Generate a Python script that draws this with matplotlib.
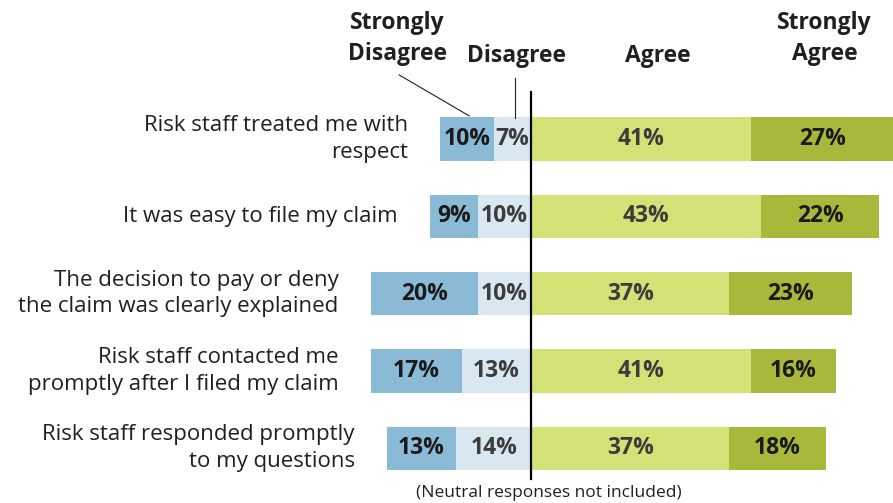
import numpy as np
import matplotlib
matplotlib.use('Agg')
import matplotlib.pyplot as plt

plt.rcParams['font.family'] = ['Open Sans', 'DejaVu Sans']

# survey data
questions = ['Risk staff treated me with\nrespect',
             'It was easy to file my claim',
             'The decision to pay or deny\nthe claim was clearly explained',
             'Risk staff contacted me\npromptly after I filed my claim',
             'Risk staff responded promptly\nto my questions']
strongly_disagree = [10, 9, 20, 17, 13]
disagree = [7, 10, 10, 13, 14]
agree = [41, 43, 37, 41, 37]
strongly_agree = [27, 22, 23, 16, 18]

c_sd = '#8abad5'
c_d = '#d9e7f1'
c_a = '#d4e176'
c_sa = '#a7b83a'

fig = plt.figure(figsize=(8.93, 5.03), dpi=100)
ax = fig.add_axes([0, 0, 1, 1])

y = np.arange(len(questions))
sd = np.array(strongly_disagree)
d = np.array(disagree)
a = np.array(agree)
sa = np.array(strongly_agree)
h = 0.56

ax.barh(y, -d, left=0, height=h, color=c_d, edgecolor='none')
ax.barh(y, -sd, left=-d, height=h, color=c_sd, edgecolor='none')
ax.barh(y, a, left=0, height=h, color=c_a, edgecolor='none')
ax.barh(y, sa, left=a, height=h, color=c_sa, edgecolor='none')

fs = 16.5
for i in range(len(y)):
    ax.text(-d[i] - sd[i] / 2, y[i], f'{sd[i]}%', ha='center', va='center',
            fontsize=fs, fontweight='bold', color='#1a1a1a')
    ax.text(-d[i] / 2, y[i], f'{d[i]}%', ha='center', va='center',
            fontsize=fs, fontweight='bold', color='#3c3c3c')
    ax.text(a[i] / 2, y[i], f'{a[i]}%', ha='center', va='center',
            fontsize=fs, fontweight='bold', color='#3c3c3c')
    ax.text(a[i] + sa[i] / 2, y[i], f'{sa[i]}%', ha='center', va='center',
            fontsize=fs, fontweight='bold', color='#1a1a1a')
    ax.text(-d[i] - sd[i] - 6, y[i], questions[i], ha='right', va='center',
            fontsize=16, color='#231f20', linespacing=1.36)

# center line
ax.plot([0, 0], [-0.61, 4.4], color='black', lw=1.6)

# headers
hs = 16.5
ax.text(-25, -1.3, 'Strongly\nDisagree', ha='center', va='center',
        fontsize=hs, fontweight='bold', color='#231f20', linespacing=1.4)
ax.text(-2.8, -1.07, 'Disagree', ha='center', va='center',
        fontsize=hs, fontweight='bold', color='#231f20')
ax.text(23.7, -1.07, 'Agree', ha='center', va='center',
        fontsize=hs, fontweight='bold', color='#231f20')
ax.text(54.8, -1.3, 'Strongly\nAgree', ha='center', va='center',
        fontsize=hs, fontweight='bold', color='#231f20', linespacing=1.4)

# leader lines
ax.plot([-24.7, -11.6], [-0.83, -0.30], color='#231f20', lw=0.8)
ax.plot([-3.1, -3.1], [-0.79, -0.27], color='#231f20', lw=0.8)

ax.text(3.2, 4.58, '(Neutral responses not included)', ha='center', va='center',
        fontsize=12.5, color='#231f20')

ax.set_xlim(-99.3, 67.6)
ax.set_ylim(4.71, -1.8)
ax.axis('off')

plt.savefig('out.png', dpi=100)
